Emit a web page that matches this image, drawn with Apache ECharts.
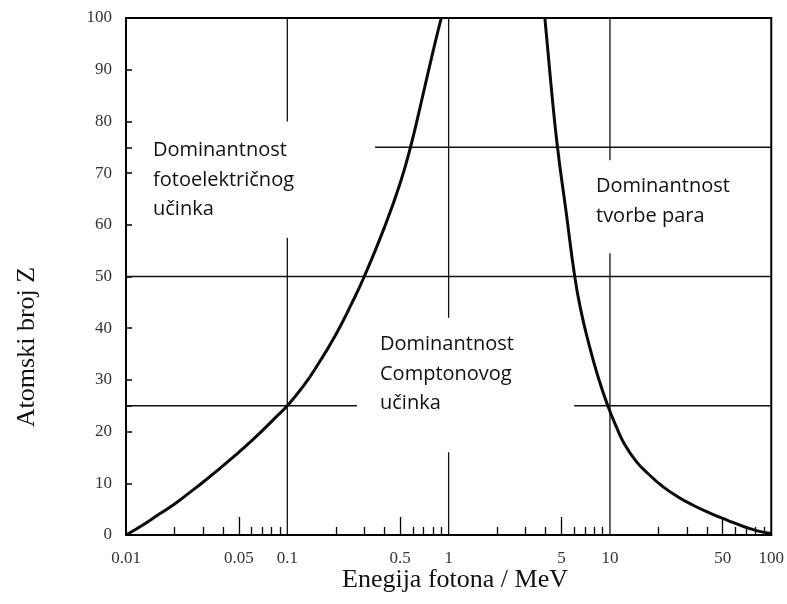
<!DOCTYPE html>
<html><head><meta charset="utf-8">
<script src="https://cdn.jsdelivr.net/npm/echarts@6/dist/echarts.min.js"></script>
<style>html,body{margin:0;padding:0;background:#fff}#c{width:787px;height:604px}</style>
</head><body><div id="c"></div>
<script>
// Boundary: photoelectric / Compton (energy MeV, atomic number Z)
const leftE = [0.01, 0.0125, 0.016, 0.02, 0.025, 0.03, 0.04, 0.05, 0.06, 0.07, 0.085, 0.1, 0.125, 0.15, 0.2, 0.25, 0.3, 0.4, 0.5, 0.58, 0.68, 0.8, 0.9];
const leftZ = [0, 1.8, 4, 6, 8.3, 10.2, 13.4, 16, 18.2, 20.2, 22.8, 25, 28.7, 32.3, 38.8, 44.7, 50, 59.5, 68, 75, 84, 93.5, 100];
// Boundary: Compton / pair production
const rightE = [3.95, 4.3, 4.73, 5.35, 6.05, 6.6, 7.3, 8.4, 9.7, 11, 12.3, 14.5, 17.2, 21, 26.3, 33, 42, 54, 68, 82, 100];
const rightZ = [100, 87.5, 75, 62.5, 50, 43.5, 37.7, 30.8, 25, 20.8, 17.6, 14.3, 11.9, 9.5, 7.4, 5.7, 4.2, 2.8, 1.6, 0.8, 0.3];

// Reference grid segments [E1, Z1, E2, Z2]
const refSegments = [
  [0.1, 100, 0.1, 80], [0.1, 57.5, 0.1, 0],
  [1, 100, 1, 42], [1, 16, 1, 0],
  [10, 100, 10, 72.5], [10, 54.5, 10, 0],
  [0.35, 75, 100, 75],
  [0.01, 50, 100, 50],
  [0.01, 25, 0.27, 25], [6.0, 25, 100, 25]
];

const xLabelValues = [0.01, 0.05, 0.1, 0.5, 1, 5, 10, 50, 100];
const xLabelTexts = ['0.01', '0.05', '0.1', '0.5', '1', '5', '10', '50', '100'];
const xLongTicks = [0.05, 0.5, 5, 50];
const xShortTicks = [0.02, 0.03, 0.04, 0.06, 0.07, 0.08, 0.09, 0.2, 0.3, 0.4, 0.6, 0.7, 0.8, 0.9, 2, 3, 4, 6, 7, 8, 9, 20, 30, 40, 60, 70, 80, 90];
const yLabelValues = [0, 10, 20, 30, 40, 50, 60, 70, 80, 90, 100];
const yTickValues = [10, 20, 25, 30, 40, 50, 60, 70, 75, 80, 90];

const regionTexts = [
  {text: 'Dominantnost\nfotoelektričnog\nučinka', x: 153, y: 136},
  {text: 'Dominantnost\nComptonovog\nučinka', x: 380, y: 330},
  {text: 'Dominantnost\ntvorbe para', x: 596, y: 172}
];
const xTitle = 'Enegija fotona / MeV';
const yTitle = 'Atomski broj Z';

const serif = '"Liberation Serif", "DejaVu Serif", serif';
const zip = (a, b) => a.map((v, i) => [v, b[i]]);

const series = [];
refSegments.forEach(s => {
  series.push({type: 'line', xAxisIndex: 0, yAxisIndex: 0, data: [[s[0], s[1]], [s[2], s[3]]],
    symbol: 'none', silent: true, lineStyle: {color: '#111', width: 1.3}, z: 2});
});
series.push({type: 'line', xAxisIndex: 0, data: zip(leftE, leftZ), symbol: 'none', smooth: 0.5,
  lineStyle: {color: '#0a0a0a', width: 3}, z: 3});
series.push({type: 'line', xAxisIndex: 0, data: zip(rightE, rightZ), symbol: 'none', smooth: 0.5,
  lineStyle: {color: '#0a0a0a', width: 3}, z: 3});

const lg = v => Math.log10(v);
const chart = echarts.init(document.getElementById('c'), null, {renderer: 'canvas'});
chart.setOption({
  animation: false,
  backgroundColor: '#fff',
  grid: {left: 126, right: 13, top: 18, bottom: 69, show: true, borderColor: '#000', borderWidth: 2, backgroundColor: 'transparent'},
  xAxis: [
    {type: 'log', logBase: 10, min: 0.01, max: 100, position: 'bottom',
      axisLine: {show: true, onZero: false, lineStyle: {color: '#000', width: 2}},
      axisTick: {show: false}, axisLabel: {show: false}, splitLine: {show: false}},
    {type: 'value', min: -2, max: 2, position: 'bottom',
      axisLine: {show: false, onZero: false}, splitLine: {show: false},
      axisTick: {show: true, inside: true, length: 18, customValues: xLongTicks.map(lg), lineStyle: {color: '#000', width: 1.3}},
      axisLabel: {show: true, customValues: xLabelValues.map(lg), margin: 15, color: '#333', fontFamily: serif, fontSize: 17,
        formatter: v => { const i = xLabelValues.findIndex(x => Math.abs(lg(x) - v) < 1e-6); return i >= 0 ? xLabelTexts[i] : ''; }}},
    {type: 'value', min: -2, max: 2, position: 'bottom',
      axisLine: {show: false, onZero: false}, splitLine: {show: false}, axisLabel: {show: false},
      axisTick: {show: true, inside: true, length: 8, customValues: xShortTicks.map(lg), lineStyle: {color: '#000', width: 1.3}}}
  ],
  yAxis: [{type: 'value', min: 0, max: 100, interval: 10, position: 'left',
    axisLine: {show: true, onZero: false, lineStyle: {color: '#000', width: 2}},
    axisTick: {show: true, inside: true, length: 6, customValues: yTickValues, lineStyle: {color: '#000', width: 1.5}},
    axisLabel: {customValues: yLabelValues, margin: 14, color: '#333', fontFamily: serif, fontSize: 17},
    splitLine: {show: false}}],
  graphic: [
    ...regionTexts.map(r => ({type: 'text', left: r.x, top: r.y, z: 10,
      style: {text: r.text, fill: '#111', font: '20px "Open Sans", "Noto Sans", sans-serif', lineHeight: 29.5}})),
    {type: 'text', x: 455, y: 580, z: 10,
      style: {text: xTitle, fill: '#111', font: '26px ' + serif, textAlign: 'center', textVerticalAlign: 'middle'}},
    {type: 'text', x: 27, y: 347, rotation: Math.PI / 2, z: 10,
      style: {text: yTitle, fill: '#111', font: '26px ' + serif, textAlign: 'center', textVerticalAlign: 'middle'}}
  ],
  series: series
});
</script></body></html>
